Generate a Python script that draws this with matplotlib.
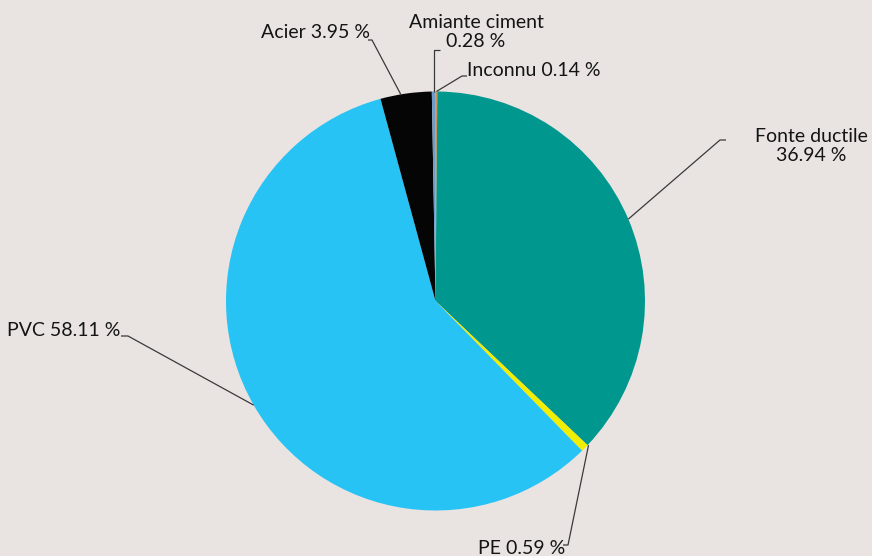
import numpy as np
import matplotlib
matplotlib.use("Agg")
import matplotlib.pyplot as plt

# Pipe materials share (%)
materials = ["Inconnu", "Fonte ductile", "PE", "PVC", "Acier", "Amiante ciment"]
shares = [0.14, 36.94, 0.59, 58.11, 3.95, 0.28]
colors = ["#C8965A", "#00978F", "#F2EE00", "#27C3F4", "#050505", "#6F9BC8"]

W, H = 872, 556
BG = "#E9E4E1"
LINE = "#3A3A3A"
TEXT = "#141414"

plt.rcParams["font.family"] = ["Lato", "DejaVu Sans"]

fig = plt.figure(figsize=(W / 100, H / 100), dpi=100, facecolor=BG)
ax = fig.add_axes([0, 0, 1, 1])
ax.set_facecolor(BG)

cx, cy, r = 435.5, H - 301, 209.5
wedges, _ = ax.pie(shares, colors=colors, startangle=90, counterclock=False,
                   center=(cx, cy), radius=r, frame=True,
                   wedgeprops=dict(linewidth=0))
ax.set_xlim(0, W)
ax.set_ylim(0, H)
ax.set_aspect("equal")
ax.axis("off")


def edge_point(w, frac=0.5):
    a = np.deg2rad(w.theta1 + (w.theta2 - w.theta1) * frac)
    return cx + r * np.cos(a), cy + r * np.sin(a)


def fy(y):
    return H - y


def leader(p0, elbow, tick_dx):
    ax.plot([p0[0], elbow[0], elbow[0] + tick_dx], [p0[1], elbow[1], elbow[1]],
            color=LINE, lw=0.9, solid_capstyle="butt")


fs = 14
idx = {m: i for i, m in enumerate(materials)}
txt = dict(fontsize=fs, color=TEXT)

# Fonte ductile
w = wedges[idx["Fonte ductile"]]
leader(edge_point(w), (720, fy(140)), 6)
ax.text(811, fy(146), f"Fonte ductile\n{shares[1]:.2f} %",
        ha="center", va="center", linespacing=1.2, **txt)

# PE
w = wedges[idx["PE"]]
p = edge_point(w, 1.0)
leader((p[0] + 1, p[1]), (568, fy(545)), -5)
ax.text(565, fy(548), f"PE {shares[2]:.2f} %", ha="right", va="center", **txt)

# PVC
w = wedges[idx["PVC"]]
leader(edge_point(w), (128, fy(336)), -7)
ax.text(120, fy(330), f"PVC {shares[3]:.2f} %", ha="right", va="center", **txt)

# Acier
w = wedges[idx["Acier"]]
leader(edge_point(w, 0.6), (372, fy(40)), -4)
ax.text(370, fy(33), f"Acier {shares[4]:.2f} %", ha="right", va="center", **txt)

# Amiante ciment
w = wedges[idx["Amiante ciment"]]
leader(edge_point(w), (edge_point(w)[0], fy(50)), 6)
ax.text(476, fy(32), f"Amiante ciment\n{shares[5]:.2f} %", ha="center", va="center",
        linespacing=1.2, **txt)

# Inconnu
w = wedges[idx["Inconnu"]]
leader(edge_point(w), (462, fy(76)), 5)
ax.text(467, fy(70), f"Inconnu {shares[0]:.2f} %", ha="left", va="center", **txt)

fig.savefig("out.png", dpi=100, facecolor=BG)
